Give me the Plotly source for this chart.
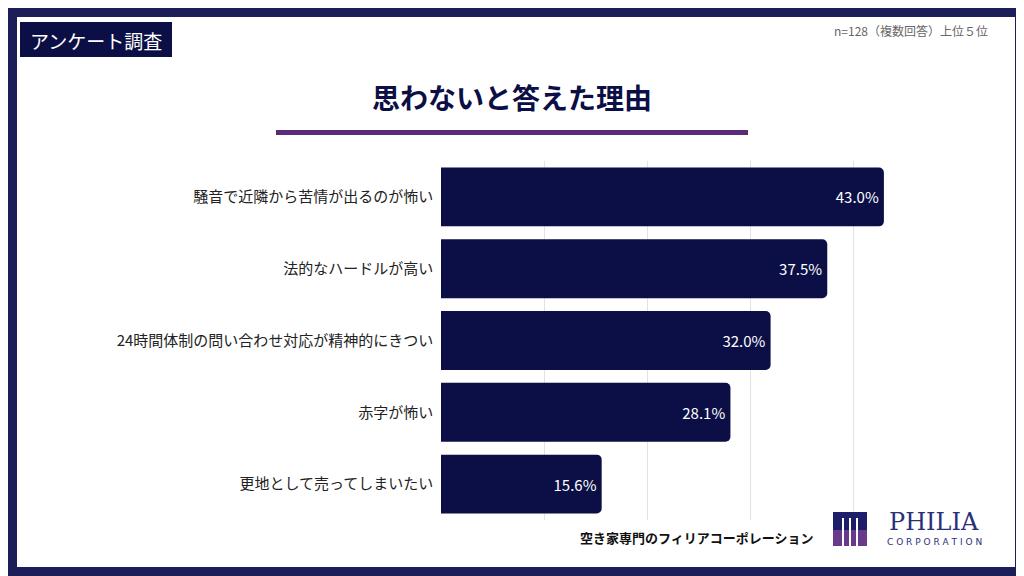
import plotly.graph_objects as go

reasons = ["騒音で近隣から苦情が出るのが怖い", "法的なハードルが高い",
           "24時間体制の問い合わせ対応が精神的にきつい", "赤字が怖い", "更地として売ってしまいたい"]
shares = [43.0, 37.5, 32.0, 28.1, 15.6]

NAVY = "#0b0f45"
FONT = "Noto Sans CJK JP"
OFF = 8  # page body margin
W, H = 1024 - OFF, 576 - OFF
L, R, T, B = 441 - OFF, 68, 161 - OFF, 56
PW, PH = W - L - R, H - T - B


# positions below are given in screen pixels of the 1024x576 window
def fx(x):
    return (x - OFF - L) / PW


def fy(y):
    return (H - B - (y - OFF)) / PH


def box(x0, y0, x1, y1, color):
    fig.add_shape(type="rect", xref="paper", yref="paper", x0=fx(x0), x1=fx(x1),
                  y0=fy(y1), y1=fy(y0), fillcolor=color, line=dict(width=0))


def label(x, y, text, size, color, family=FONT, anchor="center"):
    fig.add_annotation(xref="paper", yref="paper", x=fx(x), y=fy(y), text=text,
                       showarrow=False, xanchor=anchor, yanchor="middle",
                       font=dict(size=size, color=color, family=family))


fig = go.Figure(go.Bar(
    x=shares, y=reasons, orientation="h",
    marker=dict(color=NAVY, line=dict(width=0)), width=0.82,
    text=[f"{v:.1f}%" for v in shares], textposition="inside",
    insidetextanchor="end", textfont=dict(color="white", size=15, family=FONT),
))
fig.update_layout(
    width=W, height=H, paper_bgcolor="white", plot_bgcolor="white",
    margin=dict(l=L, r=R, t=T, b=B, autoexpand=False), barcornerradius=5, showlegend=False,
    font=dict(family=FONT, color="#222"),
    xaxis=dict(range=[0, 50], dtick=10, showgrid=True, gridcolor="#e2e2e2",
               showticklabels=False, zeroline=False),
    yaxis=dict(autorange="reversed", tickfont=dict(size=15, color="#222"),
               ticksuffix="  ", showgrid=False, automargin=False),
)
# frame (top and left parts fall partly under the page margin)
box(0, 0, 1024, 17, "#1c1e5a")
box(0, 567, 1024, 576, "#1c1e5a")
box(0, 0, 17, 576, "#1c1e5a")
box(1015, 0, 1024, 576, "#1c1e5a")
# tag
box(20, 22, 172, 57, NAVY)
label(96, 40, "アンケート調査", 19, "white")
label(990, 31, "n=128（複数回答）上位５位", 12, "#666", anchor="right")
label(512, 97, "<b>思わないと答えた理由</b>", 28, NAVY)
box(276, 130, 748, 135, "#5b2a78")
label(815, 537, "<b>空き家専門のフィリアコーポレーション</b>", 13, "#111", anchor="right")
# logo
box(833, 512, 867, 546, "#1c1e6a")
box(833, 530, 867, 546, "#6a3a8a")
box(842, 518, 844, 546, "white")
box(849, 518, 851, 546, "white")
box(856, 518, 858, 546, "white")
label(934, 522, "PHILIA", 24, "#2a2f7a", family="DejaVu Serif")
label(934, 542, "C O R P O R A T I O N", 9, "#2a2f7a", family="DejaVu Sans")
fig.write_html("out.html")
